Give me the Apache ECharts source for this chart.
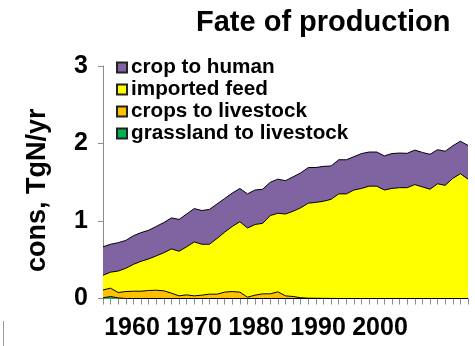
<!DOCTYPE html>
<html>
<head>
<meta charset="utf-8">
<script src="https://cdn.jsdelivr.net/npm/echarts@6/dist/echarts.min.js"></script>
<style>
  html, body { margin: 0; padding: 0; background: #fff; }
  #chart { width: 475px; height: 346px; }
</style>
</head>
<body>
<div id="chart"></div>
<script>
// Nitrogen consumption by origin, TgN/yr, one value per year
const years = [];
for (let y = 1961; y <= 2009; y++) years.push(String(y));

const yearTicks = ['1960', '1970', '1980', '1990', '2000'];
const yTicks = [0, 1, 2, 3];

const grasslandToLivestock = [
  0.010, 0.025, 0.008, 0, 0, 0, 0, 0, 0, 0,
  0, 0, 0, 0, 0, 0, 0, 0, 0, 0,
  0, 0, 0, 0, 0, 0, 0, 0, 0, 0,
  0, 0, 0, 0, 0, 0, 0, 0, 0, 0,
  0, 0, 0, 0, 0, 0, 0, 0, 0
];
const cropsToLivestock = [
  0.100, 0.108, 0.069, 0.090, 0.094, 0.094, 0.103, 0.107, 0.099, 0.069,
  0.034, 0.047, 0.034, 0.043, 0.056, 0.056, 0.082, 0.090, 0.082, 0.017,
  0.043, 0.060, 0.060, 0.086, 0.034, 0.026, 0.010, 0.004, 0.003, 0.002,
  0.001, 0, 0, 0, 0, 0, 0, 0, 0, 0,
  0, 0, 0, 0, 0, 0, 0, 0, 0
];
const importedFeed = [
  0.190, 0.207, 0.277, 0.300, 0.346, 0.386, 0.407, 0.443, 0.491, 0.571,
  0.576, 0.620, 0.696, 0.657, 0.644, 0.719, 0.774, 0.840, 0.908, 0.893,
  0.912, 0.910, 1.010, 1.014, 1.056, 1.100, 1.160, 1.226, 1.237, 1.253,
  1.279, 1.350, 1.350, 1.400, 1.420, 1.450, 1.450, 1.400, 1.420, 1.430,
  1.430, 1.470, 1.440, 1.410, 1.480, 1.460, 1.550, 1.610, 1.540
];
const cropToHuman = [
  0.367, 0.360, 0.366, 0.360, 0.370, 0.370, 0.370, 0.380, 0.390, 0.400,
  0.410, 0.423, 0.430, 0.435, 0.450, 0.445, 0.434, 0.430, 0.430, 0.440,
  0.445, 0.440, 0.430, 0.440, 0.430, 0.444, 0.450, 0.460, 0.450, 0.450,
  0.430, 0.440, 0.440, 0.430, 0.450, 0.440, 0.440, 0.440, 0.450, 0.447,
  0.443, 0.445, 0.445, 0.450, 0.440, 0.440, 0.420, 0.420, 0.435
];

const FONT = '"Liberation Sans", Arial, sans-serif';
const AXIS_GREY = '#8c8c8c';

function areaSeries(name, data, color) {
  return {
    name: name,
    type: 'line',
    stack: 'total',
    data: data,
    xAxisIndex: 0,
    yAxisIndex: 0,
    showSymbol: false,
    symbol: 'none',
    lineStyle: { color: '#000', width: 1 },
    areaStyle: { color: color, opacity: 1 },
    itemStyle: { color: color, borderColor: '#222', borderWidth: 1 },
    emphasis: { disabled: true },
    animation: false
  };
}

const chart = echarts.init(document.getElementById('chart'), null, { renderer: 'canvas' });
chart.setOption({
  backgroundColor: '#fff',
  animation: false,
  title: {
    text: 'Fate of production',
    left: 191,
    top: 3,
    textStyle: { fontFamily: FONT, fontWeight: 'bold', fontSize: 29, color: '#000' }
  },
  legend: {
    orient: 'vertical',
    left: 111,
    top: 52,
    itemWidth: 10,
    itemHeight: 10,
    itemGap: 1,
    icon: 'rect',
    data: ['crop to human', 'imported feed', 'crops to livestock', 'grassland to livestock'],
    textStyle: { fontFamily: FONT, fontWeight: 'bold', fontSize: 20.7, color: '#000', padding: [0, 0, 0, -1] },
    selectedMode: false
  },
  grid: [
    { left: 103, right: 7, top: 66, bottom: 47.5, containLabel: false },
    { left: 101, width: 310, top: 66, bottom: 47.5, containLabel: false }
  ],
  xAxis: [
    {
      type: 'category',
      gridIndex: 0,
      data: years,
      boundaryGap: false,
      axisLine: { show: true, lineStyle: { color: AXIS_GREY, width: 1 } },
      axisTick: { show: true, interval: 0, length: 6, lineStyle: { color: AXIS_GREY } },
      axisLabel: { show: false },
      splitLine: { show: false }
    },
    {
      type: 'category',
      gridIndex: 1,
      data: yearTicks,
      boundaryGap: true,
      axisLine: { show: false },
      axisTick: { show: false },
      axisLabel: {
        show: true, interval: 0, margin: 17,
        fontFamily: FONT, fontWeight: 'bold', fontSize: 25, color: '#000'
      },
      splitLine: { show: false }
    }
  ],
  yAxis: [
    {
      type: 'value',
      gridIndex: 0,
      min: yTicks[0],
      max: yTicks[yTicks.length - 1],
      interval: 1,
      name: 'cons, TgN/yr',
      nameLocation: 'middle',
      nameGap: 52,
      nameTextStyle: {
        fontFamily: FONT, fontWeight: 'bold', fontSize: 27, color: '#000',
        padding: [0, 16, 0, 0]
      },
      axisLine: { show: true, lineStyle: { color: AXIS_GREY, width: 1 } },
      axisTick: { show: true, inside: false, length: 5, lineStyle: { color: AXIS_GREY } },
      axisLabel: { margin: 15, fontFamily: FONT, fontWeight: 'bold', fontSize: 25, color: '#000' },
      splitLine: { show: false }
    },
    { type: 'value', gridIndex: 1, show: false, min: 0, max: 3 }
  ],
  series: [
    areaSeries('grassland to livestock', grasslandToLivestock, '#00B050'),
    areaSeries('crops to livestock', cropsToLivestock, '#FFC000'),
    areaSeries('imported feed', importedFeed, '#FFFF00'),
    areaSeries('crop to human', cropToHuman, '#8064A2')
  ],
  graphic: [
    {
      type: 'line',
      shape: { x1: 3.5, y1: 321, x2: 3.5, y2: 346 },
      style: { stroke: '#9a9a9a', lineWidth: 1 },
      silent: true
    }
  ]
});
</script>
</body>
</html>
